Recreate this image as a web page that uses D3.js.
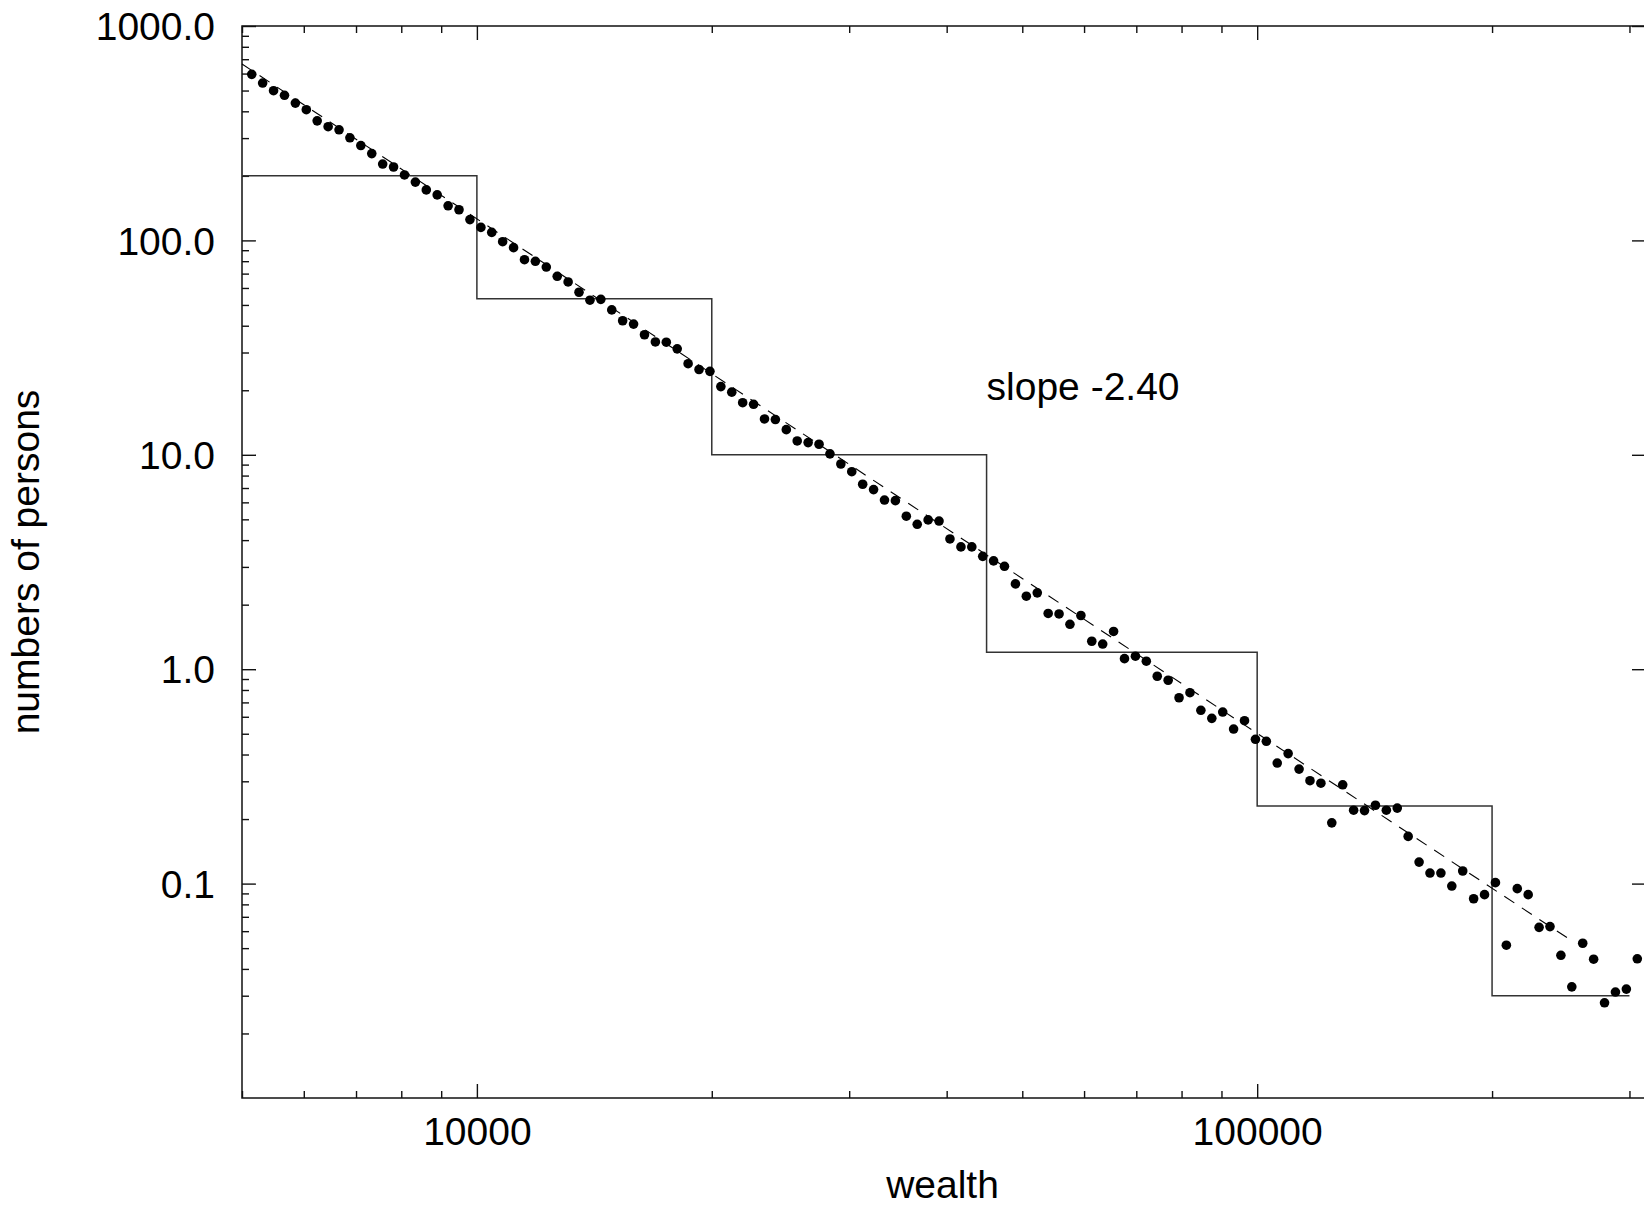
<!DOCTYPE html>
<html lang="en">

<head>
    <meta charset="UTF-8">
    <meta name="viewport" content="width=device-width, initial-scale=1.0">
    <script src="https://d3js.org/d3.v7.min.js"></script>
    <title>Wealth distribution</title>
    <style>
        body {
            margin: 0;
            background: white;
        }

        text {
            font-family: "Liberation Sans", Arial, sans-serif;
            fill: black;
        }

        .tick line {
            stroke: #111;
            stroke-width: 1.4px;
        }
    </style>
</head>

<body>
    <div id="chart"></div>
    <script>
        /*-------------------------------------------------------*/
        /*------------------------ data -------------------------*/
        /*-------------------------------------------------------*/
        // wealth of each point (log spaced bins)
        const wealth = [
            5146, 5314, 5488, 5668, 5853, 6045, 6242, 6447, 6658, 6875,
            7100, 7333, 7573, 7820, 8076, 8340, 8613, 8895, 9186, 9486,
            9797, 10119, 10448, 10790, 11143, 11508, 11884, 12273, 12675, 13089,
            13517, 13960, 14416, 14888, 15375, 15878, 16398, 16934, 17488, 18060,
            18651, 19262, 19892, 20543, 21215, 21909, 22626, 23366, 24130, 24920,
            25735, 26577, 27447, 28345, 29272, 30230, 31219, 32240, 33295, 34384,
            35509, 36671, 37871, 39110, 40390, 41720, 43080, 44490, 45940, 47440,
            49000, 50600, 52260, 53970, 55730, 57550, 59440, 61380, 63390, 65460,
            67600, 69820, 72100, 74460, 76900, 79410, 82010, 84690, 87470, 90330,
            93280, 96330, 99490, 102740, 106100, 109570, 113160, 116860, 120690, 124630,
            128710, 132920, 137270, 141760, 146400, 151190, 156140, 161250, 166520, 171970,
            177600, 183410, 189410, 195600, 202000, 208610, 215440, 222490, 229770, 237280,
            245050, 253060, 261340, 269890, 278720, 287840, 297260, 307000
        ];
        // number of persons for each wealth bin
        const persons = [
            595, 542, 499, 475, 437, 407, 361, 339, 328, 301,
            277, 254, 227, 220, 202, 187, 172, 163, 145, 139,
            125, 115, 109, 98.6, 92.5, 81.3, 79.9, 75.1, 68.0, 64.0,
            57.3, 52.6, 53.1, 47.4, 42.2, 40.7, 36.3, 33.6, 33.5, 31.2,
            26.6, 25.0, 24.5, 20.8, 19.6, 17.5, 17.2, 14.7, 14.6, 13.1,
            11.6, 11.4, 11.2, 10.1, 9.06, 8.34, 7.29, 6.88, 6.15, 6.11,
            5.17, 4.74, 4.97, 4.91, 4.05, 3.72, 3.72, 3.36, 3.20, 3.02,
            2.50, 2.19, 2.27, 1.82, 1.81, 1.62, 1.78, 1.35, 1.31, 1.50,
            1.12, 1.15, 1.09, 0.927, 0.888, 0.736, 0.777, 0.643, 0.590, 0.631,
            0.526, 0.575, 0.471, 0.461, 0.365, 0.404, 0.342, 0.302, 0.294, 0.192,
            0.289, 0.220, 0.219, 0.232, 0.220, 0.225, 0.166, 0.126, 0.112, 0.112,
            0.0974, 0.1145, 0.0850, 0.0888, 0.101, 0.0516, 0.0947, 0.0888, 0.0625, 0.0630,
            0.0463, 0.0330, 0.0527, 0.0444, 0.0278, 0.0312, 0.0322, 0.0446
        ];

        // coarse histogram (step line)
        const binEdges = [5000, 10000, 20000, 45000, 100000, 200000, 300000];
        const binValues = [200, 53.5, 10, 1.2, 0.23, 0.03];

        // fitted power law, slope -2.40
        const fitWealth = [5000, 250000];
        const fitPersons = [665, 0.0557];
        const fitLabel = "slope -2.40";
        const fitLabelAt = [45000, 18];

        // ticks
        const xMajorTicks = [10000, 100000];
        const yMajorTicks = [0.1, 1, 10, 100, 1000];
        const xTitle = "wealth";
        const yTitle = "numbers of persons";

        /*-------------------------------------------------------*/
        /*------------------- Window setting --------------------*/
        /*-------------------------------------------------------*/
        const dims = { width: 1644, height: 1206 };
        const plot = { left: 242, right: 1646, top: 26, bottom: 1098 };

        const svg = d3.select("#chart").append("svg")
            .attr("width", dims.width)
            .attr("height", dims.height)
            .style("display", "block");

        svg.append("rect")
            .attr("width", dims.width)
            .attr("height", dims.height)
            .attr("fill", "white");

        /*-------------------------------------------------------*/
        /*------------------------ scales -----------------------*/
        /*-------------------------------------------------------*/
        const x = d3.scaleLog()
            .domain([5000, 315000])
            .range([plot.left, plot.right]);

        const y = d3.scaleLog()
            .domain([0.01, 1000])
            .range([plot.bottom, plot.top]);

        // minor ticks = every 1..9 x 10^k that is not a major one
        const xMinorTicks = x.ticks().filter(t => !xMajorTicks.includes(t));
        const yMinorTicks = y.ticks().filter(t => !yMajorTicks.includes(t) && t > 0.01 && t < 1000);

        /*-------------------------------------------------------*/
        /*------------------------ axes -------------------------*/
        /*-------------------------------------------------------*/
        const major = 14, minor = 7;

        function styleAxis(g) {
            g.select(".domain").remove();
            g.selectAll("text").style("font-size", "39px");
        }

        // bottom
        svg.append("g")
            .attr("transform", `translate(0,${plot.bottom})`)
            .call(d3.axisBottom(x).tickValues(xMajorTicks).tickSize(-major)
                .tickPadding(19).tickFormat(d3.format("d")))
            .call(styleAxis);
        svg.append("g")
            .attr("transform", `translate(0,${plot.bottom})`)
            .call(d3.axisBottom(x).tickValues(xMinorTicks).tickSize(-minor).tickFormat(""))
            .call(styleAxis);

        // top
        svg.append("g")
            .attr("transform", `translate(0,${plot.top})`)
            .call(d3.axisTop(x).tickValues(xMajorTicks).tickSize(-major).tickFormat(""))
            .call(styleAxis);
        svg.append("g")
            .attr("transform", `translate(0,${plot.top})`)
            .call(d3.axisTop(x).tickValues(xMinorTicks).tickSize(-minor).tickFormat(""))
            .call(styleAxis);

        // left
        svg.append("g")
            .attr("transform", `translate(${plot.left},0)`)
            .call(d3.axisLeft(y).tickValues(yMajorTicks).tickSize(-major)
                .tickPadding(27).tickFormat(d3.format(".1f")))
            .call(styleAxis)
            .selectAll("text").attr("dy", "0.35em");
        svg.append("g")
            .attr("transform", `translate(${plot.left},0)`)
            .call(d3.axisLeft(y).tickValues(yMinorTicks).tickSize(-minor).tickFormat(""))
            .call(styleAxis);

        // right (major only)
        svg.append("g")
            .attr("transform", `translate(${plot.right},0)`)
            .call(d3.axisRight(y).tickValues(yMajorTicks).tickSize(-major).tickFormat(""))
            .call(styleAxis);

        // frame
        svg.append("rect")
            .attr("x", plot.left)
            .attr("y", plot.top)
            .attr("width", plot.right - plot.left)
            .attr("height", plot.bottom - plot.top)
            .attr("fill", "none")
            .attr("stroke", "#111")
            .attr("stroke-width", 1.5);

        /*-------------------------------------------------------*/
        /*------------------------ marks ------------------------*/
        /*-------------------------------------------------------*/
        const stepData = binEdges.map((e, i) => [e, binValues[Math.min(i, binValues.length - 1)]]);

        svg.append("path")
            .datum(stepData)
            .attr("fill", "none")
            .attr("stroke", "#333")
            .attr("stroke-width", 1.5)
            .attr("d", d3.line()
                .x(d => x(d[0]))
                .y(d => y(d[1]))
                .curve(d3.curveStepAfter));

        svg.append("path")
            .datum(fitWealth.map((w, i) => [w, fitPersons[i]]))
            .attr("fill", "none")
            .attr("stroke", "black")
            .attr("stroke-width", 1.1)
            .attr("stroke-dasharray", "12,9")
            .attr("d", d3.line()
                .x(d => x(d[0]))
                .y(d => y(d[1])));

        svg.append("g")
            .selectAll("circle")
            .data(wealth.map((w, i) => [w, persons[i]]))
            .enter()
            .append("circle")
            .attr("cx", d => x(d[0]))
            .attr("cy", d => y(d[1]))
            .attr("r", 4.8)
            .attr("fill", "black");

        /*-------------------------------------------------------*/
        /*------------------------ labels -----------------------*/
        /*-------------------------------------------------------*/
        svg.append("text")
            .attr("x", x(fitLabelAt[0]))
            .attr("y", y(fitLabelAt[1]))
            .style("font-size", "39px")
            .text(fitLabel);

        svg.append("text")
            .attr("x", (plot.left + 1643) / 2)
            .attr("y", 1198)
            .attr("text-anchor", "middle")
            .style("font-size", "39px")
            .text(xTitle);

        svg.append("text")
            .attr("transform", `translate(39,${(plot.top + plot.bottom) / 2}) rotate(-90)`)
            .attr("text-anchor", "middle")
            .style("font-size", "39px")
            .text(yTitle);
    </script>
</body>

</html>
